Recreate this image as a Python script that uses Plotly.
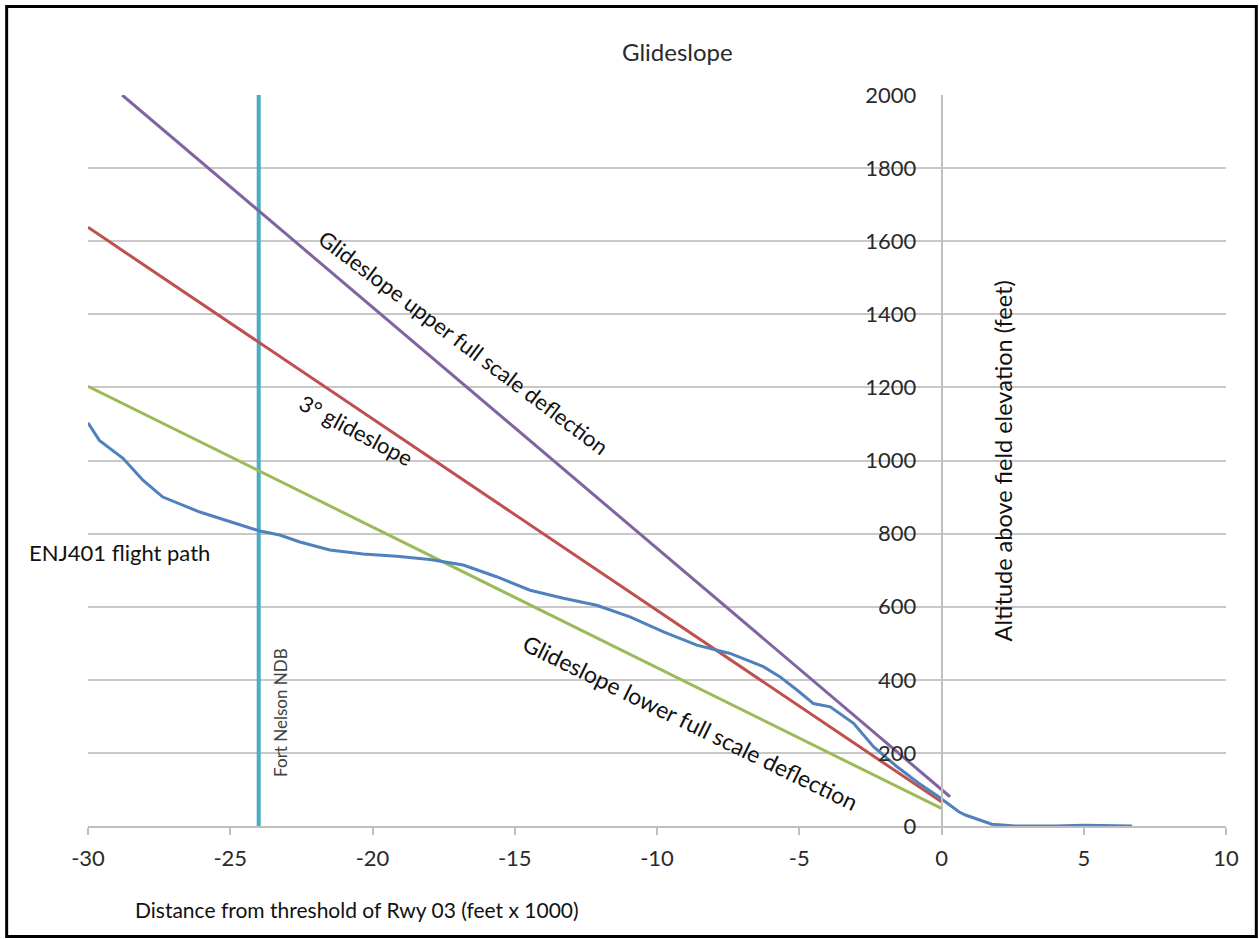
import plotly.graph_objects as go

# ---- data ----
upper_x = [-28.8, 0.3]
upper_y = [2000, 80]
glide_x = [-30, 0]
glide_y = [1638, 66]
lower_x = [-30, 0]
lower_y = [1203, 48]
ndb_x = [-24, -24]
ndb_y = [0, 2000]
path_x = [-30, -29.6, -28.77, -28.07, -27.37, -26.07, -23.96, -23.26, -22.55, -21.5,
          -20.33, -19.15, -17.98, -16.81, -15.64, -14.46, -13.29, -12.12, -10.95, -9.77,
          -8.6, -7.43, -6.26, -5.67, -5.08, -4.5, -3.91, -3.09, -2.39, -1.56,
          -0.8, -0.1, 0.61, 0.84, 1.77, 2.6, 4.0, 5.0, 6.7]
path_y = [1103, 1055, 1006, 946, 900, 859, 807, 796, 777, 755,
          744, 738, 729, 714, 682, 645, 623, 604, 572, 531,
          495, 472, 436, 408, 372, 335, 326, 281, 217, 162,
          117, 80, 39, 30, 5, 0, 0, 2, 0]
x_ticks = [-30, -25, -20, -15, -10, -5, 0, 5, 10]
x_tick_text = ["-30", "-25", "-20", "-15", "-10", "-5", "0", "5", "10"]
y_ticks = [0, 200, 400, 600, 800, 1000, 1200, 1400, 1600, 1800, 2000]

W, H = 1259, 939
# plot area in screen pixels
SX0, SX1, SY0, SY1 = 88.3, 1225.7, 94.5, 826.0
ML = SX0
MR = W - SX1
MT = SY0
MB = H - SY1
PW, PH = SX1 - SX0, SY1 - SY0
FONT = "Lato"


def px(xs):
    return (xs - SX0) / PW


def py(ys):
    return (SY1 - ys) / PH


fig = go.Figure()
fig.add_trace(go.Scatter(x=ndb_x, y=ndb_y, mode="lines", line=dict(color="#4BACC6", width=4)))
fig.add_trace(go.Scatter(x=lower_x, y=lower_y, mode="lines", line=dict(color="#9BBB59", width=3)))
fig.add_trace(go.Scatter(x=glide_x, y=glide_y, mode="lines", line=dict(color="#C0504D", width=3)))
fig.add_trace(go.Scatter(x=upper_x, y=upper_y, mode="lines", line=dict(color="#8064A2", width=3)))
fig.add_trace(go.Scatter(x=path_x, y=path_y, mode="lines", line=dict(color="#4F81BD", width=3)))

txt = "#111111"
annos = [
    dict(text="Glideslope", x=px(677), y=py(51), font=dict(size=24, color="#2a2a2a"), textangle=0),
    dict(text="Glideslope upper full scale deflection", x=px(464), y=py(342), font=dict(size=22, color=txt), textangle=37),
    dict(text="3° glideslope", x=px(357), y=py(430), font=dict(size=22, color=txt), textangle=28),
    dict(text="Glideslope lower full scale deflection", x=px(690), y=py(722), font=dict(size=23, color=txt), textangle=26),
    dict(text="Fort Nelson NDB", x=px(280), y=py(712), font=dict(size=17, color="#444444"), textangle=-90),
    dict(text="Altitude above field elevation (feet)", x=px(1003), y=py(461), font=dict(size=23.5, color=txt), textangle=-90),
    dict(text="Distance from threshold of Rwy 03 (feet x 1000)", x=px(357), y=py(910), font=dict(size=21, color=txt), textangle=0),
]
for a in annos:
    fig.add_annotation(xref="paper", yref="paper", showarrow=False, xanchor="center", yanchor="middle", **a)
fig.add_annotation(text="ENJ401 flight path", xref="paper", yref="paper", x=px(27), y=py(552),
                   xanchor="left", yanchor="middle", showarrow=False, font=dict(size=22, color=txt))

# outer frame
fig.add_shape(type="rect", xref="paper", yref="paper", x0=px(7), x1=px(1256), y0=py(936.5), y1=py(6),
              line=dict(color="black", width=3), fillcolor="rgba(0,0,0,0)", layer="above")

fig.update_layout(
    width=W, height=H,
    margin=dict(l=ML, r=MR, t=MT, b=MB, autoexpand=False),
    paper_bgcolor="white", plot_bgcolor="white",
    showlegend=False,
    font=dict(family=FONT, size=21, color="#333333"),
    xaxis=dict(range=[-30, 10], tickvals=x_ticks, ticktext=x_tick_text, showgrid=False, zeroline=False,
               showline=True, linecolor="#BFBFBF", linewidth=1.5,
               ticks="outside", ticklen=7, tickcolor="#BFBFBF", tickwidth=1.5,
               tickfont=dict(size=22, color="#2a2a2a"), ticklabelstandoff=5),
    yaxis=dict(range=[0, 2000], tickvals=y_ticks, showgrid=True, gridcolor="#C8C8C8", gridwidth=1.5,
               zeroline=False, anchor="free", position=0.75, side="left",
               showline=True, linecolor="#BFBFBF", linewidth=1.5, ticks="",
               tickfont=dict(size=22, color="#2a2a2a"), ticklabelstandoff=20),
)

fig.write_html("out.html", config={"displayModeBar": False},
               post_script="document.body.style.margin='0';document.body.style.overflow='hidden';")
